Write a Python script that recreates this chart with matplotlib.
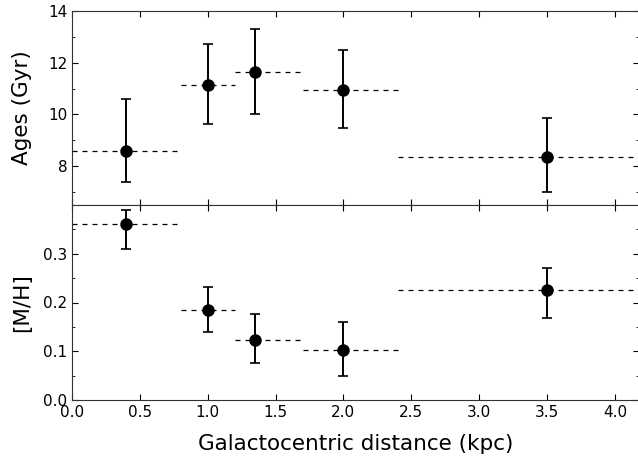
import numpy as np
import matplotlib
matplotlib.use('Agg')
import matplotlib.pyplot as plt
from matplotlib.ticker import MultipleLocator

# radial bins (kpc)
r_mid = [0.4, 1.0, 1.35, 2.0, 3.5]
r_lo = [0.0, 0.8, 1.2, 1.7, 2.4]
r_hi = [0.8, 1.2, 1.7, 2.4, 4.6]

# ages (Gyr) with lower / upper error bounds
age = [8.57, 11.15, 11.65, 10.96, 8.36]
age_low = [7.40, 9.65, 10.01, 9.46, 7.02]
age_high = [10.59, 12.74, 13.29, 12.49, 9.88]

# metallicity [M/H]
mh = [0.362, 0.185, 0.123, 0.103, 0.225]
mh_low = [0.310, 0.139, 0.075, 0.049, 0.168]
mh_high = [0.389, 0.231, 0.177, 0.160, 0.271]

fig = plt.figure(figsize=(6.38, 4.58), dpi=100)
left, right = 72 / 638, 639.3 / 638
ax1 = fig.add_axes([left, 1 - 205 / 458, right - left, 194 / 458])
ax2 = fig.add_axes([left, 1 - 400 / 458, right - left, 195 / 458], sharex=ax1)


def draw_panel(ax, y, ylo, yhi):
    y = np.array(y)
    yerr = [y - np.array(ylo), np.array(yhi) - y]
    ax.hlines(y, r_lo, r_hi, colors='black', linestyles=(0, (4, 4)), linewidth=0.9)
    ax.errorbar(r_mid, y, yerr=yerr, fmt='o', color='black', ms=8,
                elinewidth=1.4, capsize=3.5, capthick=1.2)
    ax.tick_params(which='both', direction='in', top=True, right=True, labelsize=11)
    ax.tick_params(which='major', length=4)
    ax.tick_params(which='minor', length=2)
    for sp in ax.spines.values():
        sp.set_color('#333333')


draw_panel(ax1, age, age_low, age_high)
ax1.set_ylim(6.5, 14)
ax1.yaxis.set_major_locator(MultipleLocator(2))
ax1.yaxis.set_minor_locator(MultipleLocator(1))
ax1.set_ylabel('Ages (Gyr)', fontsize=15.5)
plt.setp(ax1.get_xticklabels(), visible=False)

draw_panel(ax2, mh, mh_low, mh_high)
ax2.set_ylim(0.0, 0.4)
ax2.set_yticks([0.0, 0.1, 0.2, 0.3])
ax2.yaxis.set_minor_locator(MultipleLocator(0.05))
ax2.set_ylabel('[M/H]', fontsize=15.5)

ax2.set_xlim(0.0, 4.18)
ax2.xaxis.set_major_locator(MultipleLocator(0.5))
ax2.set_xlabel('Galactocentric distance (kpc)', fontsize=15.5, labelpad=10)

ax1.yaxis.set_label_coords(-0.07, 0.5)
ax2.yaxis.set_label_coords(-0.07, 0.5)

fig.savefig('out.png', dpi=100)
